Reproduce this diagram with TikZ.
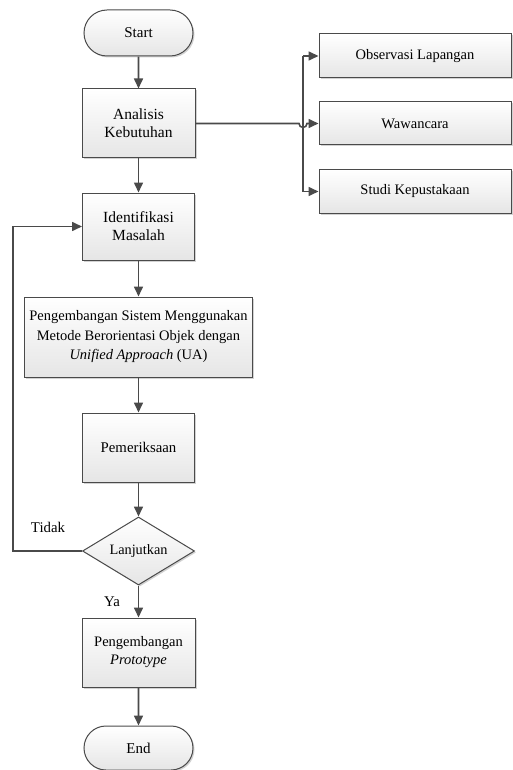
\documentclass[tikz,border=0pt]{standalone}
\usepackage{fontspec}
\setmainfont{Liberation Serif}
\usetikzlibrary{shapes.geometric,shapes.misc,arrows.meta,shadows}
\definecolor{edge}{HTML}{4A4A4A}
\begin{document}
\begin{tikzpicture}[x=1pt,y=-1pt,
  base/.style={draw=edge,line width=1pt,top color=white,bottom color=black!10,
    drop shadow={shadow xshift=1.5pt,shadow yshift=-1.5pt,fill=black!35,opacity=0.5},
    align=center,inner sep=2pt,font=\fontsize{15}{18}\selectfont},
  procbox/.style={base,rectangle,minimum width=113pt,minimum height=69pt},
  termbox/.style={base,rounded rectangle,minimum width=113pt,minimum height=46pt},
  sidebox/.style={base,rectangle,minimum width=192pt,minimum height=43pt,font=\fontsize{14.5}{17}\selectfont},
  decbox/.style={base,diamond,minimum width=112pt,minimum height=68pt,aspect=1.65,inner sep=0pt},
  flow/.style={draw=edge,line width=1.6pt,-{Triangle[length=10pt,width=9pt]}},
  plain/.style={draw=edge,line width=1.6pt},
  lbl/.style={font=\fontsize{14.8}{17}\selectfont}]
\useasboundingbox (0,0) rectangle (513,770);

\node[termbox] (start) at (138.5,33) {Start};
\node[procbox,font=\fontsize{15.5}{18}\selectfont] (ana) at (138.5,123.5) {Analisis\\Kebutuhan};
\node[procbox,minimum width=112pt,minimum height=67pt,font=\fontsize{15.5}{18}\selectfont] (idf) at (138.5,226.5) {Identifikasi\\Masalah};
\node[procbox,minimum width=228pt,minimum height=80pt,font=\fontsize{14.5}{19.5}\selectfont] (pss) at (138.5,337) {Pengembangan Sistem Menggunakan\\Metode Berorientasi Objek dengan\\\textit{Unified Approach} (UA)};
\node[procbox,minimum width=112pt,font=\fontsize{14.8}{18}\selectfont] (pem) at (138.5,447.5) {Pemeriksaan};
\node[decbox,font=\fontsize{14.3}{17}\selectfont] (dec) at (138.5,551) {Lanjutkan};
\node[procbox,font=\fontsize{14.5}{18}\selectfont] (pro) at (138.5,652.5) {Pengembangan\\\textit{Prototype}};
\node[termbox,minimum height=44pt] (end) at (138.5,748) {End};

\node[sidebox,minimum height=44pt] (obs) at (415,56) {Observasi Lapangan};
\node[sidebox] (waw) at (415,123.5) {Wawancara};
\node[sidebox] (stu) at (415,191.5) {Studi Kepustakaan};

\coordinate (bt) at (303,56);
\coordinate (bb) at (303,191.5);
\coordinate (loopa) at (13,551);
\coordinate (loopb) at (13,226.5);

\draw[flow] (start) -- (ana);
\draw[flow] (ana) -- (idf);
\draw[flow] (idf) -- (pss);
\draw[flow] (pss) -- (pem);
\draw[flow] (pem) -- (dec);
\draw[flow] (dec) -- (pro);
\draw[flow] (pro) -- (end);

\draw[plain] (bt) -- (bb);
\draw[flow] (bt) -- (obs.west);
\draw[flow] (bb) -- (stu.west);
\draw[flow] (ana.east) -- (299,123.5) arc[start angle=180,end angle=0,radius=4] -- (waw.west);

\draw[flow] (dec.west) -- (loopa) -- (loopb) -- (idf.west);

\node[lbl] (tidak) at (48,527) {Tidak};
\node[lbl] (ya) at (112,602) {Ya};
\end{tikzpicture}
\end{document}
